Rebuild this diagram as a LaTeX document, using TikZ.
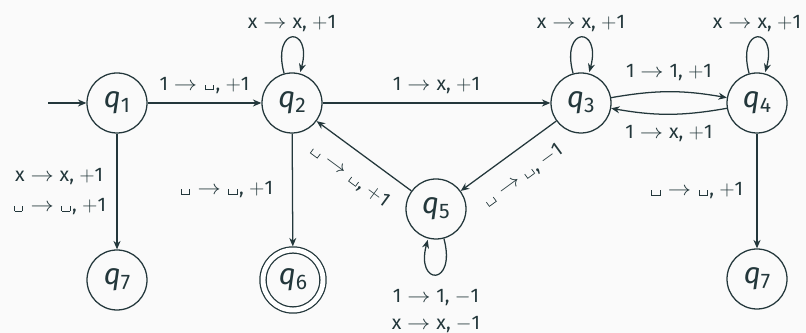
\documentclass[tikz,border=0pt]{standalone}
\usepackage{fontspec}
\setmainfont{Fira Sans}
\usetikzlibrary{arrows.meta,automata}

\definecolor{mteal}{HTML}{23373B}
\definecolor{mbg}{HTML}{FAFAFA}

% blank tape symbol, arrow and state names
\newcommand{\blank}{\kern0.08em\rule{0.5pt}{0.28em}\rule{0.4em}{0.5pt}\rule{0.5pt}{0.28em}\kern0.08em}
\newcommand{\goes}{\kern0.3em\scalebox{1.15}[1]{$\rightarrow$}\kern0.3em}
\newcommand{\qst}[1]{{\fontsize{21}{24}\selectfont\itshape q}\raisebox{-0.22em}{\fontsize{15}{16}\selectfont #1}}

\begin{document}
\begin{tikzpicture}[
		color=mteal, line width=0.9pt,
		font=\fontsize{14}{16}\selectfont,
		>={Stealth[length=6pt,width=5pt]},
		every state/.style={draw, minimum size=1.5cm, inner sep=0pt},
		accepting/.style={double, double distance=3.5pt, outer sep=2.6pt}
	]
	\fill[mbg] (0,0) rectangle (20.15,8.325);
	\useasboundingbox (0,0) rectangle (20.15,8.325);

	\node[state] (q1) at (2.925,5.75) {\qst{1}};
	\node[state] (q2) at (7.3,5.75) {\qst{2}};
	\node[state] (q3) at (14.525,5.75) {\qst{3}};
	\node[state] (q4) at (18.925,5.75) {\qst{4}};
	\node[state] (q5) at (10.9,3.1) {\qst{5}};
	\node[state,accepting] (q6) at (7.325,1.325) {\qst{6}};
	\node[state] (q7a) at (2.925,1.325) {\qst{7}};
	\node[state] (q7b) at (18.925,1.35) {\qst{7}};
	\coordinate (start) at (1.2,5.75);

	\path[->]
		(start) edge (q1)
		(q1) edge node[above=3pt] {1\goes\blank, $+$1} (q2)
		(q1) edge node[left=4pt, align=center] {x\goes x, $+$1\\[5pt]\blank\goes\blank, $+$1} (q7a)
		(q2) edge[loop above] node[above] {x\goes x, $+$1} ()
		(q2) edge node[above=3pt] {1\goes x, $+$1} (q3)
		(q2) edge node[left=10pt] {\blank\goes\blank, $+$1} (q6)
		(q3) edge[loop above] node[above] {x\goes x, $+$1} ()
		(q3) edge[bend left=10] node[above=4pt] {1\goes 1, $+$1} (q4)
		(q4) edge[bend left=10] node[below=4pt] {1\goes x, $+$1} (q3)
		(q4) edge[loop above] node[above] {x\goes x, $+$1} ()
		(q4) edge node[left=6pt] {\blank\goes\blank, $+$1} (q7b)
		(q3) edge node[sloped, below=8pt] {\blank\goes\blank, $-$1} (q5)
		(q5) edge node[sloped, below=8pt] {\blank\goes\blank, $+$1} (q2)
		(q5) edge[loop below] node[below=7pt, align=center] {1\goes 1, $-$1\\[3pt]x\goes x, $-$1} ();
\end{tikzpicture}
\end{document}
